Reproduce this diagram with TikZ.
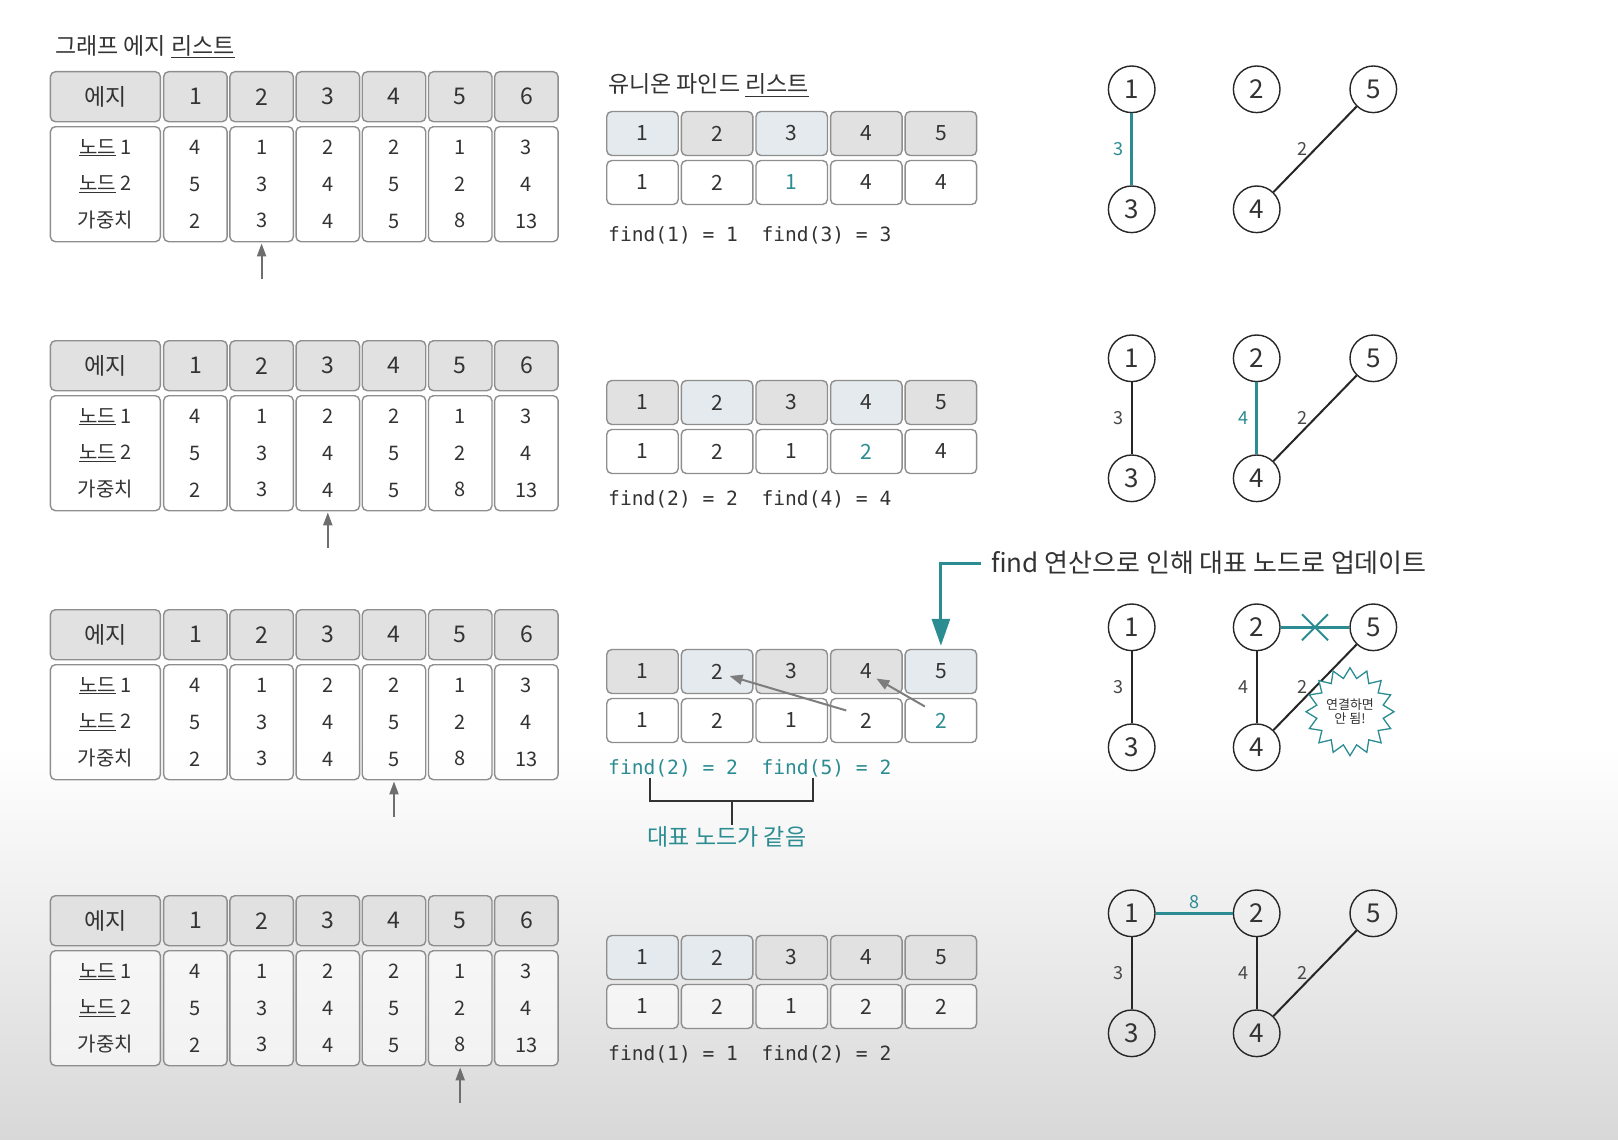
\documentclass[tikz,border=0pt]{standalone}
\usepackage{fontspec}
\setmainfont{Noto Sans CJK KR}
\newfontfamily\codefont{DejaVu Sans Mono}
\usetikzlibrary{arrows.meta,calc,shapes.geometric,shapes.misc}

\definecolor{cellline}{HTML}{8E8E8E}
\definecolor{headfill}{HTML}{E1E1E1}
\definecolor{headhi}{HTML}{E4EAEE}
\definecolor{tealc}{HTML}{2B8C92}
\definecolor{inkc}{HTML}{333333}
\definecolor{pointc}{HTML}{6E6E6E}
\definecolor{bgbot}{HTML}{D8D8D8}

\newcommand{\fs}[1]{\fontsize{#1}{#1}\selectfont}

\tikzset{
    cell/.style={draw=cellline, line width=1.4pt, rounded corners=5pt, inner sep=0pt, text=inkc},
    headcell/.style={cell, fill=headfill, minimum height=50, font=\fs{23}},
    bodycell/.style={cell, fill=white, fill opacity=0.6, text opacity=1, minimum height=115,
        align=center, font=\fontsize{20}{36.7}\selectfont},
    ufhead/.style={cell, minimum width=71.5, minimum height=44, font=\fs{21}},
    ufbody/.style={cell, fill=white, fill opacity=0.6, text opacity=1, minimum width=71.5,
        minimum height=44, font=\fs{21}},
    codetext/.style={anchor=west, inner sep=0pt, font=\codefont\fs{19.6}},
    listtitle/.style={anchor=west, inner sep=0pt, text=inkc, font=\fs{23}},
    vert/.style={circle, draw=black!85, line width=1.4pt, minimum size=46.6, inner sep=0pt,
        text=inkc, font=\fs{26}},
    link/.style={draw=black!85, line width=2pt},
    hotlink/.style={draw=tealc, line width=3pt},
    wlabel/.style={inner sep=2pt, text=inkc!90, font=\fs{18}},
    pointer/.style={draw=pointc, line width=2pt, -{Triangle[length=13pt,width=9pt]}, shorten >=1pt},
    hint/.style={draw=pointc!90, line width=2pt, -{Triangle[length=13pt,width=10pt]}},
    bracket/.style={draw=inkc, line width=2pt},
    reptext/.style={inner sep=1pt, text=tealc, font=\fs{23}},
    burst/.style={star, star points=16, star point ratio=1.3, draw=tealc, line width=1.3pt,
        fill=white, inner sep=0pt, minimum size=72, align=center, text=inkc,
        font=\fontsize{13}{14}\selectfont},
    note/.style={anchor=west, inner xsep=10pt, inner ysep=0pt, text=inkc, font=\fs{26}},
    notearrow/.style={draw=tealc, line width=3pt, -{Triangle[length=27pt,width=18pt]}, shorten >=3pt}
}

\begin{document}
\begin{tikzpicture}[x=1pt, y=-1pt]
    % --- 배경 ---
    \useasboundingbox (0,0) rectangle (1618,1140);
    \fill[white] (0,0) rectangle (1618,745);
    \shade[top color=white, bottom color=bgbot] (0,745) rectangle (1618,1140);

    % --- 제목 ---
    \node[listtitle] (etitle) at (55, 46.7) {그래프 에지 \underline{리스트}};
    \node[listtitle] (utitle) at (608, 85) {유니온 파인드 \underline{리스트}};

    % --- 그래프 에지 리스트 (행마다 화살표 위치만 다름) ---
    \foreach \r/\dy/\pick in {1/0/2, 2/269/3, 3/538/4, 4/824/5}{
        \node[headcell, minimum width=110] (el\r) at (105.4, 96.7+\dy) {에지};
        \node[bodycell, minimum width=110] (eb\r) at (105.4, 184.2+\dy)
            {\underline{노드} 1\\\underline{노드} 2\\가중치};
        \foreach \c/\a/\b/\w in {1/4/5/2, 2/1/3/3, 3/2/4/4, 4/2/5/5, 5/1/2/8, 6/3/4/13}{
            \node[headcell, minimum width=63.5] (eh\r-\c) at ({195.4+66.2*(\c-1)}, 96.7+\dy) {\c};
            \node[bodycell, minimum width=63.5] (eb\r-\c) at ({195.4+66.2*(\c-1)}, 184.2+\dy) {\a\\\b\\\w};
        }
        \coordinate (et\r) at ({195.4+66.2*(\pick-1)}, 279+\dy);
        \draw[pointer] (et\r) -- (eb\r-\pick.south);
    }

    % --- 유니온 파인드 리스트 ---
    \foreach \r/\dy/\cols in {
        1/0/{1/1/headhi/inkc, 2/2/headfill/inkc, 3/1/headhi/tealc, 4/4/headfill/inkc, 5/4/headfill/inkc},
        2/269/{1/1/headfill/inkc, 2/2/headhi/inkc, 3/1/headfill/inkc, 4/2/headhi/tealc, 5/4/headfill/inkc},
        3/538/{1/1/headfill/inkc, 2/2/headhi/inkc, 3/1/headfill/inkc, 4/2/headfill/inkc, 5/2/headhi/tealc},
        4/824/{1/1/headhi/inkc, 2/2/headhi/inkc, 3/1/headfill/inkc, 4/2/headfill/inkc, 5/2/headfill/inkc}}{
        \foreach \c/\v/\hf/\vc in \cols{
            \node[ufhead, fill=\hf] (uh\r-\c) at ({642.5+74.6*(\c-1)}, 133.5+\dy) {\c};
            \node[ufbody, text=\vc] (ub\r-\c) at ({642.5+74.6*(\c-1)}, 182.5+\dy) {\v};
        }
    }

    % --- find 결과 ---
    \foreach \r/\fy/\ftxt/\fcol in {1/235/{find(1) = 1~~find(3) = 3}/inkc,
                                    2/499/{find(2) = 2~~find(4) = 4}/inkc,
                                    3/768/{find(2) = 2~~find(5) = 2}/tealc,
                                    4/1054/{find(1) = 1~~find(2) = 2}/inkc}{
        \node[codetext, text=\fcol] (f\r) at (608, \fy) {\ftxt};
    }

    % --- 그래프 노드 ---
    \foreach \r/\dy in {1/0, 2/269, 3/538, 4/824}{
        \node[vert] (g\r-1) at (1131.7, 89.3+\dy) {1};
        \node[vert] (g\r-2) at (1256.7, 89.3+\dy) {2};
        \node[vert] (g\r-5) at (1373.3, 89.3+\dy) {5};
        \node[vert] (g\r-3) at (1131.7, 209.3+\dy) {3};
        \node[vert] (g\r-4) at (1256.7, 209.3+\dy) {4};
    }

    % 1단계: 1-3 연결
    \draw[hotlink] (g1-1) -- node[wlabel, left=5pt, text=tealc] {3} (g1-3);
    \draw[link] (g1-4) -- node[wlabel, left=5pt] {2} (g1-5);

    % 2단계: 2-4 연결
    \draw[link] (g2-1) -- node[wlabel, left=5pt] {3} (g2-3);
    \draw[hotlink] (g2-2) -- node[wlabel, left=5pt, text=tealc] {4} (g2-4);
    \draw[link] (g2-4) -- node[wlabel, left=5pt] {2} (g2-5);

    % 3단계: 2-5는 사이클
    \draw[link] (g3-1) -- node[wlabel, left=5pt] {3} (g3-3);
    \draw[link] (g3-2) -- node[wlabel, left=5pt] {4} (g3-4);
    \draw[link] (g3-4) -- node[wlabel, left=5pt] {2} (g3-5);
    \draw[hotlink] (g3-2) -- node[cross out, draw=tealc, line width=2pt, minimum size=24pt, inner sep=0pt] (xm) {} (g3-5);
    \node[burst] (nb) at (1350, 711.7) {연결하면\\안 됨!};

    % 4단계: 1-2 연결
    \draw[link] (g4-1) -- node[wlabel, left=5pt] {3} (g4-3);
    \draw[link] (g4-2) -- node[wlabel, left=5pt] {4} (g4-4);
    \draw[link] (g4-4) -- node[wlabel, left=5pt] {2} (g4-5);
    \draw[hotlink] (g4-1) -- node[wlabel, above=1pt, text=tealc] {8} (g4-2);

    % --- 3단계 설명 ---
    \draw[hint] ($(ub3-4.center)+(-20,-10)$) -- ($(uh3-2.center)+(12.5,4.5)$);
    \draw[hint] ($(ub3-5.center)+(-16,-14)$) -- ($(uh3-4.center)+(10,7)$);

    \node[note] (nt) at (981, 563) {find 연산으로 인해 대표 노드로 업데이트};
    \draw[notearrow] (nt.west) -| (uh3-5.north);

    \coordinate (bkl) at ($(f3.west)+(42,10)$);
    \coordinate (bkr) at ($(f3.west)+(205,10)$);
    \draw[bracket] (bkl) -- ++(0,23) -| (bkr);
    \node[reptext] (rep) at (727, 837) {대표 노드가 같음};
    \coordinate (bkm) at ($(bkl)!0.5!(bkr)+(0,23)$);
    \draw[bracket] (bkm) -- (bkm |- rep.north);
\end{tikzpicture}
\end{document}
